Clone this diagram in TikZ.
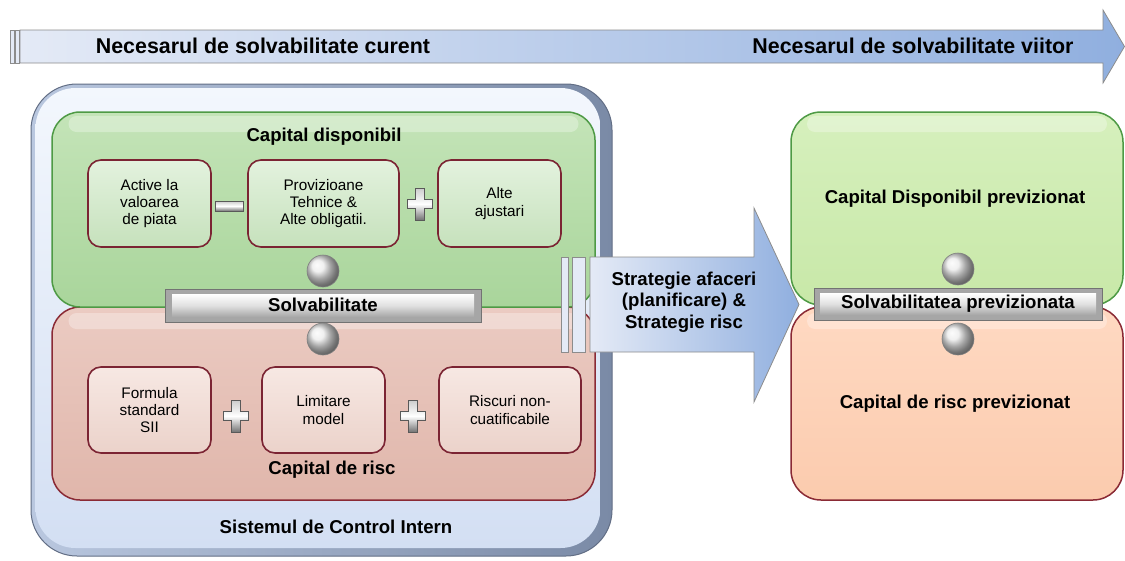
\documentclass[tikz,border=0pt]{standalone}
\usepackage{fontspec}
\setmainfont{Liberation Sans}
\usetikzlibrary{shapes.geometric}
\definecolor{grnBorder}{HTML}{4E9A45}
\definecolor{grnTop}{HTML}{C4E4B8}
\definecolor{grnBot}{HTML}{A9D59B}
\definecolor{redBorder}{HTML}{8A2A35}
\definecolor{redTop}{HTML}{EBCBC2}
\definecolor{redBot}{HTML}{E0B6AB}
\definecolor{boxBorder}{HTML}{7B2433}
\definecolor{gInTop}{HTML}{E3F2DE}
\definecolor{gInBot}{HTML}{C6E1BC}
\definecolor{rInTop}{HTML}{F7E8E3}
\definecolor{rInBot}{HTML}{EBD2CA}
\definecolor{frameL}{HTML}{B9C7DF}
\definecolor{frameR}{HTML}{7A8AA6}
\definecolor{ctrlTop}{HTML}{F3F7FD}
\definecolor{ctrlBot}{HTML}{D3DFF3}
\definecolor{arrL}{HTML}{E4EAF6}
\definecolor{arrR}{HTML}{90AFDF}
\definecolor{arrBorder}{HTML}{8C8C8C}
\definecolor{rgTop}{HTML}{D6F0BD}
\definecolor{rgBot}{HTML}{C8E8A8}
\definecolor{rrTop}{HTML}{FFD9C2}
\definecolor{rrBot}{HTML}{FBCBAE}
\newcommand{\metalplus}[1]{\path[metal,shift={#1}] (-4.5,-16) -- (4.5,-16) -- (4.5,-4.5) -- (12.5,-4.5) -- (12.5,4.5) -- (4.5,4.5) -- (4.5,16) -- (-4.5,16) -- (-4.5,4.5) -- (-12.5,4.5) -- (-12.5,-4.5) -- (-4.5,-4.5) -- cycle;}
\begin{document}
\begin{tikzpicture}[x=1pt,y=-1pt,
  lbl/.style={font=\fontsize{18.6}{21.7}\selectfont\bfseries, inner sep=0, align=center},
  toplbl/.style={font=\fontsize{21.4}{24}\selectfont\bfseries, inner sep=0},
  smalltxt/.style={font=\fontsize{15.3}{17.3}\selectfont, align=center},
  greenL/.style={rounded corners=28pt, draw=grnBorder, line width=1.5pt, top color=grnTop, bottom color=grnBot, minimum width=543pt, minimum height=195pt, inner sep=0},
  redL/.style={rounded corners=28pt, draw=redBorder, line width=1.5pt, top color=redTop, bottom color=redBot, minimum width=543pt, minimum height=193pt, inner sep=0},
  greenR/.style={rounded corners=30pt, draw=grnBorder, line width=1.5pt, top color=rgTop, bottom color=rgBot, minimum width=332pt, minimum height=193pt, inner sep=0},
  redR/.style={rounded corners=30pt, draw=redBorder, line width=1.5pt, top color=rrTop, bottom color=rrBot, minimum width=332pt, minimum height=193pt, inner sep=0},
  gloss/.style={rounded corners=8pt, fill=white, fill opacity=0.3, draw=none, inner sep=0},
  gin/.style={smalltxt, rounded corners=13pt, draw=boxBorder, line width=1.6pt, top color=gInTop, bottom color=gInBot, minimum height=87pt, inner sep=0},
  rin/.style={smalltxt, rounded corners=13pt, draw=boxBorder, line width=1.6pt, top color=rInTop, bottom color=rInBot, minimum height=86pt, inner sep=0},
  metal/.style={draw=black!65, line width=0.6pt, top color=black!20, bottom color=black!55, middle color=white},
  barouter/.style={draw=black!55, line width=0.8pt, fill=black!35, inner sep=0},
  barface/.style={top color=white, bottom color=black!35, middle color=black!12, inner sep=0},
  ballshade/.style={ball color=black!8},
  ballrim/.style={draw=black!50, line width=0.6pt},
  arrowshape/.style={draw=arrBorder, line width=0.8pt, left color=arrL, right color=arrR},
  slot/.style={draw=arrBorder, line width=0.7pt, fill=arrL}
]
\useasboundingbox (0,0) rectangle (1125,560);

% ---------- top timeline arrow ----------
\path[slot] (10,30) rectangle (14,63);
\path[slot] (15,30) rectangle (19,63);
\path[arrowshape] (20,30) -- (1103,30) -- (1103,10) -- (1124.5,46.5) -- (1103,83) -- (1103,63) -- (20,63) -- cycle;
\node[toplbl] (curent) at (263,46) {Necesarul de solvabilitate curent};
\node[toplbl] (viitor) at (913,46) {Necesarul de solvabilitate viitor};

% ---------- internal control frame ----------
\node[rounded corners=46pt, draw=frameR!80!black, line width=1pt, left color=frameL, right color=frameR, minimum width=581pt, minimum height=472pt, inner sep=0] (ctrl) at (321.5,320) {};
\node[rounded corners=40pt, top color=ctrlTop, bottom color=ctrlBot, minimum width=565pt, minimum height=460pt, inner sep=0] (ctrlin) at (318,318) {};
\node[lbl] (ctrllbl) at (336,527) {Sistemul de Control Intern};

% ---------- capital boxes (left) ----------
\node[redL] (riskbox) at (323.5,403.5) {};
\node[gloss, minimum width=510pt, minimum height=16pt] (riskgloss) at (323.5,321) {};
\node[greenL] (availbox) at (323.5,209.5) {};
\node[gloss, minimum width=510pt, minimum height=16pt] (availgloss) at (323.5,124) {};
\node[lbl] (availlbl) at (324,137) {Capital disponibil};
\node[lbl] (risklbl) at (332,470) {Capital de risc};

\node[gin, minimum width=123pt] (active) at (149.5,203.5) {Active la\\valoarea\\de piata};
\node[gin, minimum width=151pt] (prov) at (323.5,203.5) {Provizioane\\Tehnice \&\\Alte obligatii.};
\node[gin, minimum width=123pt] (alte) at (499.5,203.5) {Alte\\ajustari};

\node[rin, minimum width=123pt] (formula) at (149.5,410) {Formula\\standard\\SII};
\node[rin, minimum width=123pt] (limitare) at (323.5,410) {Limitare\\model};
\node[rin, minimum width=142pt] (riscuri) at (510,410) {Riscuri non-\\cuatificabile};

% operators
\path[metal] (215,201) rectangle (243,211);
\metalplus{(420,204)}
\metalplus{(236,416)}
\metalplus{(413,416)}

% solvency bar and balls (left)
\shade[ballshade] (323,271) circle (16pt);
\draw[ballrim] (323,271) circle (16pt);
\shade[ballshade] (323,339) circle (16pt);
\draw[ballrim] (323,339) circle (16pt);
\node[barouter, minimum width=316pt, minimum height=33pt] (solvbar) at (323,305.5) {};
\node[barface, minimum width=302pt, minimum height=23pt] (solvface) at (323,305.5) {};
\node[lbl] (solvlbl) at (323,305) {Solvabilitate};

% ---------- forecast boxes (right) ----------
\node[redR] (riskR) at (957,403.5) {};
\node[gloss, minimum width=300pt, minimum height=16pt] (riskRgloss) at (957,321) {};
\node[greenR] (availR) at (957,208.5) {};
\node[gloss, minimum width=300pt, minimum height=16pt] (availRgloss) at (957,124) {};
\node[lbl] (availRlbl) at (955,199) {Capital Disponibil previzionat};
\node[lbl] (riskRlbl) at (955,404) {Capital de risc previzionat};
\shade[ballshade] (958,269) circle (16pt);
\draw[ballrim] (958,269) circle (16pt);
\shade[ballshade] (958,339) circle (16pt);
\draw[ballrim] (958,339) circle (16pt);
\node[barouter, minimum width=288pt, minimum height=32pt] (solvRbar) at (958,304) {};
\node[barface, minimum width=276pt, minimum height=22pt] (solvRface) at (958,304) {};
\node[lbl] (solvRlbl) at (958,304) {Solvabilitatea previzionata};

% ---------- strategy arrow ----------
\path[slot] (561,257) rectangle (568,352);
\path[slot] (572,257) rectangle (585,352);
\path[arrowshape] (590,257) -- (754,257) -- (754,208) -- (799,304.5) -- (754,402) -- (754,352) -- (590,352) -- cycle;
\node[lbl] (strat) at (684,302) {Strategie afaceri\\(planificare) \&\\Strategie risc};
\end{tikzpicture}
\end{document}
